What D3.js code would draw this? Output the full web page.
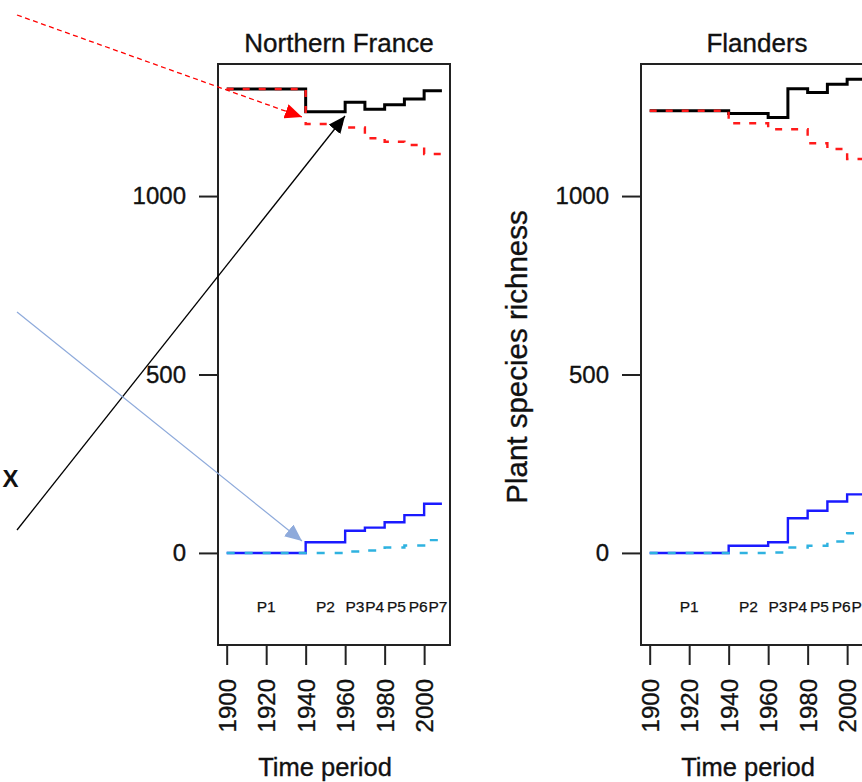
<!DOCTYPE html>
<html>
<head>
<meta charset="utf-8">
<script src="https://cdn.jsdelivr.net/npm/d3@7"></script>
<style>
  html, body { margin: 0; padding: 0; background: #fff; }
  svg { display: block; font-family: "Liberation Sans", Arial, sans-serif; }
</style>
</head>
<body>
<svg id="chart" width="862" height="782"></svg>
<script>
// ---- data ----
const periodStarts = [1900, 1940, 1960, 1970, 1980, 1990, 2000];
const periodEnd = 2009;
const periodLabels = ["P1", "P2", "P3", "P4", "P5", "P6", "P7"];
const periodLabelYears = [1920, 1950, 1965, 1975, 1986, 1997, 2007];
const xTicks = [1900, 1920, 1940, 1960, 1980, 2000];
const yTicks = [0, 500, 1000];

const nfBlack = [1300, 1236, 1263, 1243, 1256, 1272, 1295];
const nfRed   = [1300, 1202, 1192, 1162, 1152, 1143, 1118];
const nfBlue  = [0, 30, 62, 71, 86, 106, 138];
const nfCyan  = [0, 0, 4, 7, 15, 21, 36];

const flBlack = [1239, 1231, 1220, 1301, 1290, 1313, 1327];
const flRed   = [1239, 1204, 1187, 1187, 1148, 1132, 1104];
const flBlue  = [0, 20, 30, 97, 118, 144, 164];
const flCyan  = [0, 0, 1, 15, 20, 32, 55];

const panels = [
  { title: "Northern France", left: 218, titleShift: 5, series: [nfBlack, nfRed, nfBlue, nfCyan], ylab: false },
  { title: "Flanders", left: 641, titleShift: 0, series: [flBlack, flRed, flBlue, flCyan], ylab: true }
];
const seriesStyle = [
  { color: "#000000", width: 3, dash: null },
  { color: "#ff1a1a", width: 2.4, dash: "7,9" },
  { color: "#1a1aff", width: 2.4, dash: null },
  { color: "#2fb2e0", width: 2.4, dash: "8,10" }
];

// ---- layout ----
const svg = d3.select("#chart");
const boxTop = 64, boxH = 581, boxW = 232;
const font = "'Liberation Sans', Arial, sans-serif";
const ink = "#111";

function heavy(sel) {
  return sel.attr("fill", ink).attr("stroke", ink).attr("stroke-width", 0.35).attr("font-family", font);
}

const y = d3.scaleLinear().domain([-258, 1370]).range([boxTop + boxH, boxTop]);

panels.forEach(p => {
  const x = d3.scaleLinear().domain([1895.6, 2013.1]).range([p.left, p.left + boxW]);
  const g = svg.append("g");

  // series
  const line = d3.line().curve(d3.curveStepAfter).x(d => x(d[0])).y(d => y(d[1]));
  p.series.forEach((vals, i) => {
    const pts = periodStarts.map((yr, k) => [yr, vals[k]]);
    pts.push([periodEnd, vals[vals.length - 1]]);
    const st = seriesStyle[i];
    g.append("path").datum(pts)
      .attr("d", line)
      .attr("fill", "none")
      .attr("stroke", st.color)
      .attr("stroke-width", st.width)
      .attr("stroke-dasharray", st.dash)
      .attr("stroke-linejoin", "miter");
  });

  // box
  g.append("rect")
    .attr("x", p.left).attr("y", boxTop)
    .attr("width", boxW).attr("height", boxH)
    .attr("fill", "none").attr("stroke", "#222").attr("stroke-width", 2);

  // y axis
  const ya = g.append("g").attr("transform", `translate(${p.left},0)`)
    .call(d3.axisLeft(y).tickValues(yTicks).tickSize(19).tickPadding(13).tickFormat(d3.format("d")));
  ya.select(".domain").remove();
  ya.selectAll(".tick line").attr("stroke", "#222").attr("stroke-width", 2);
  heavy(ya.selectAll(".tick text").attr("font-size", 24));

  // x axis
  const xa = g.append("g").attr("transform", `translate(0,${boxTop + boxH})`)
    .call(d3.axisBottom(x).tickValues(xTicks).tickSize(20).tickFormat(d3.format("d")));
  xa.select(".domain").remove();
  xa.selectAll(".tick line").attr("stroke", "#222").attr("stroke-width", 2);
  heavy(xa.selectAll(".tick text").attr("font-size", 24))
    .attr("text-anchor", "end")
    .attr("transform", "translate(0,34) rotate(-90)")
    .attr("x", 0).attr("y", 0).attr("dy", "0.35em");

  // period labels
  heavy(g.selectAll(".plab").data(periodLabels).enter().append("text")
    .attr("x", (d, i) => x(periodLabelYears[i]))
    .attr("y", 612)
    .attr("text-anchor", "middle")
    .attr("font-size", 15.5)
    .text(d => d)).attr("stroke-width", 0.25);

  // title
  heavy(g.append("text")
    .attr("x", p.left + boxW / 2 + p.titleShift).attr("y", 52)
    .attr("text-anchor", "middle")
    .attr("font-size", 26)
    .text(p.title));

  // x label
  heavy(g.append("text")
    .attr("x", p.left + boxW / 2 - 9).attr("y", 776)
    .attr("text-anchor", "middle")
    .attr("font-size", 25.5)
    .text("Time period"));

  if (p.ylab) {
    heavy(g.append("text")
      .attr("transform", `translate(527,357) rotate(-90)`)
      .attr("text-anchor", "middle")
      .attr("font-size", 29.5)
      .text("Plant species richness"));
  }
});

// ---- annotations ----
const defs = svg.append("defs");
function marker(id, color, len, wid) {
  defs.append("marker")
    .attr("id", id).attr("markerUnits", "userSpaceOnUse")
    .attr("viewBox", `0 0 ${len} ${wid}`)
    .attr("refX", len).attr("refY", wid / 2)
    .attr("markerWidth", len).attr("markerHeight", wid)
    .attr("orient", "auto")
    .append("path").attr("d", `M0,0 L${len},${wid / 2} L0,${wid} Z`).attr("fill", color);
}
marker("ar-red", "#ff0000", 17, 15);
marker("ar-black", "#000000", 17, 15);
marker("ar-blue", "#8eaadb", 17, 15);

const arrowFrom = [[17, 15], [17, 530], [17, 312]];
const arrowTo = [[302, 117], [345, 116], [302, 541]];
const arrowStyle = [
  { color: "#ff0000", width: 1.3, dash: "5,3.5", m: "ar-red" },
  { color: "#000000", width: 1.3, dash: null, m: "ar-black" },
  { color: "#8eaadb", width: 1.2, dash: null, m: "ar-blue" }
];
arrowFrom.forEach((f, i) => {
  const s = arrowStyle[i];
  svg.append("line")
    .attr("x1", f[0]).attr("y1", f[1])
    .attr("x2", arrowTo[i][0]).attr("y2", arrowTo[i][1])
    .attr("stroke", s.color).attr("stroke-width", s.width)
    .attr("stroke-dasharray", s.dash)
    .attr("marker-end", `url(#${s.m})`);
});

svg.append("text")
  .attr("x", 10.5).attr("y", 487)
  .attr("text-anchor", "middle")
  .attr("font-size", 24).attr("font-weight", "bold")
  .attr("font-family", font).attr("fill", "#111")
  .text("X");
</script>
</body>
</html>
